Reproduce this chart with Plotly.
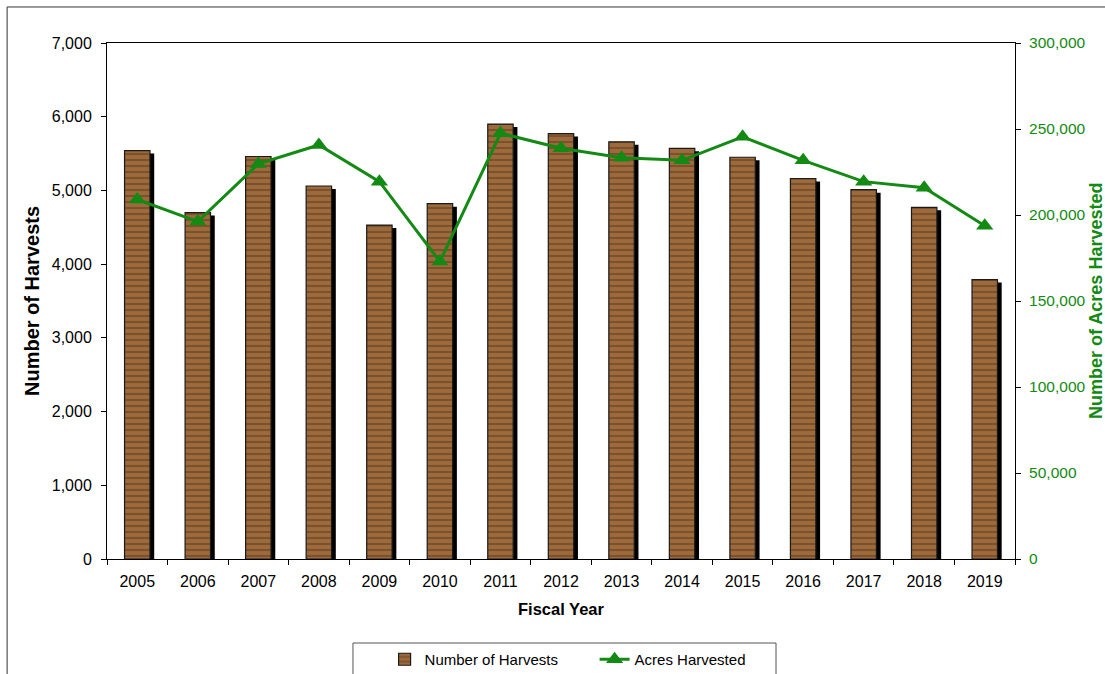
import plotly.graph_objects as go

years = ["2005", "2006", "2007", "2008", "2009", "2010", "2011", "2012",
         "2013", "2014", "2015", "2016", "2017", "2018", "2019"]
harvests = [5540, 4700, 5460, 5060, 4530, 4820, 5900, 5770,
            5660, 5570, 5450, 5160, 5010, 4770, 3790]
acres = [209000, 196200, 229700, 240700, 219400, 172900, 247500, 238800,
         233300, 231800, 245500, 231800, 219400, 215900, 193800]

GREEN = "#138a13"
FONT = "Liberation Sans, Arial, sans-serif"

fig = go.Figure()

# shadow bars
fig.add_trace(go.Bar(
    x=years, y=harvests, base=-40, width=0.42, offset=-0.14,
    marker=dict(color="black", line=dict(width=0)),
    showlegend=False, hoverinfo="skip",
))
# wood bars
fig.add_trace(go.Bar(
    x=years, y=harvests, width=0.42, offset=-0.21,
    name="Number of Harvests",
    marker=dict(color="#9c6a3c", line=dict(color="#1a1a1a", width=1.2),
                pattern=dict(shape="-", fgcolor="#5e3a1a", size=6,
                             solidity=0.35, fillmode="overlay")),
))
fig.add_trace(go.Scatter(
    x=years, y=acres, yaxis="y2", name="Acres Harvested",
    mode="lines+markers",
    line=dict(color=GREEN, width=3),
    marker=dict(symbol="triangle-up", size=15, color=GREEN),
))

# outer frame and legend box
fig.add_shape(type="rect", xref="paper", yref="paper",
              x0=-0.110, x1=1.2, y0=-0.3, y1=1.0698,
              line=dict(color="#333333", width=1), layer="below")
fig.add_shape(type="rect", xref="paper", yref="paper",
              x0=0.2709, x1=0.7368, y0=-0.3, y1=-0.1628,
              line=dict(color="#555555", width=1), layer="below")

fig.add_annotation(text="<b>Number of Harvests</b>", xref="paper", yref="paper",
                   x=-0.0826, y=0.5, xanchor="center", yanchor="middle",
                   textangle=-90, showarrow=False,
                   font=dict(family=FONT, size=20, color="black"))
fig.add_annotation(text="<b>Number of Acres Harvested</b>", xref="paper", yref="paper",
                   x=1.0892, y=0.5, xanchor="center", yanchor="middle",
                   textangle=-90, showarrow=False,
                   font=dict(family=FONT, size=18, color=GREEN))
fig.add_annotation(text="<b>Fiscal Year</b>", xref="paper", yref="paper",
                   x=0.5, y=-0.0969, xanchor="center", yanchor="middle",
                   showarrow=False,
                   font=dict(family=FONT, size=16.5, color="black"))

fig.update_layout(
    width=1105, height=674,
    margin=dict(l=107, r=90, t=43, b=115, autoexpand=False),
    paper_bgcolor="white", plot_bgcolor="white",
    barmode="overlay",
    font=dict(family=FONT, size=16, color="black"),
    xaxis=dict(type="category", range=[-0.5, 14.5], autorange=False,
               showline=True, linecolor="black", linewidth=1,
               mirror=True, ticks="outside", ticklen=5, tickcolor="black",
               tickson="boundaries", showgrid=False, automargin=False,
               ticklabelstandoff=8, tickfont=dict(size=16)),
    yaxis=dict(range=[0, 7000], dtick=1000, tickformat=",", showgrid=False,
               showline=True, linecolor="black", linewidth=1,
               ticks="outside", ticklen=5, tickcolor="black", automargin=False,
               ticklabelstandoff=6, zeroline=False, tickfont=dict(size=16)),
    yaxis2=dict(range=[0, 300000], dtick=50000, tickformat=",", overlaying="y",
                side="right", showgrid=False, showline=True, linecolor="black",
                linewidth=1, ticks="outside", ticklen=5, tickcolor="black",
                ticklabelstandoff=5, zeroline=False, automargin=False,
                tickfont=dict(size=15.5, color=GREEN)),
    legend=dict(orientation="h", x=0.537, xanchor="center",
                yref="container", y=0.046, yanchor="top",
                font=dict(size=15), entrywidth=165,
                bgcolor="rgba(0,0,0,0)"),
)

fig.write_html("out.html")
